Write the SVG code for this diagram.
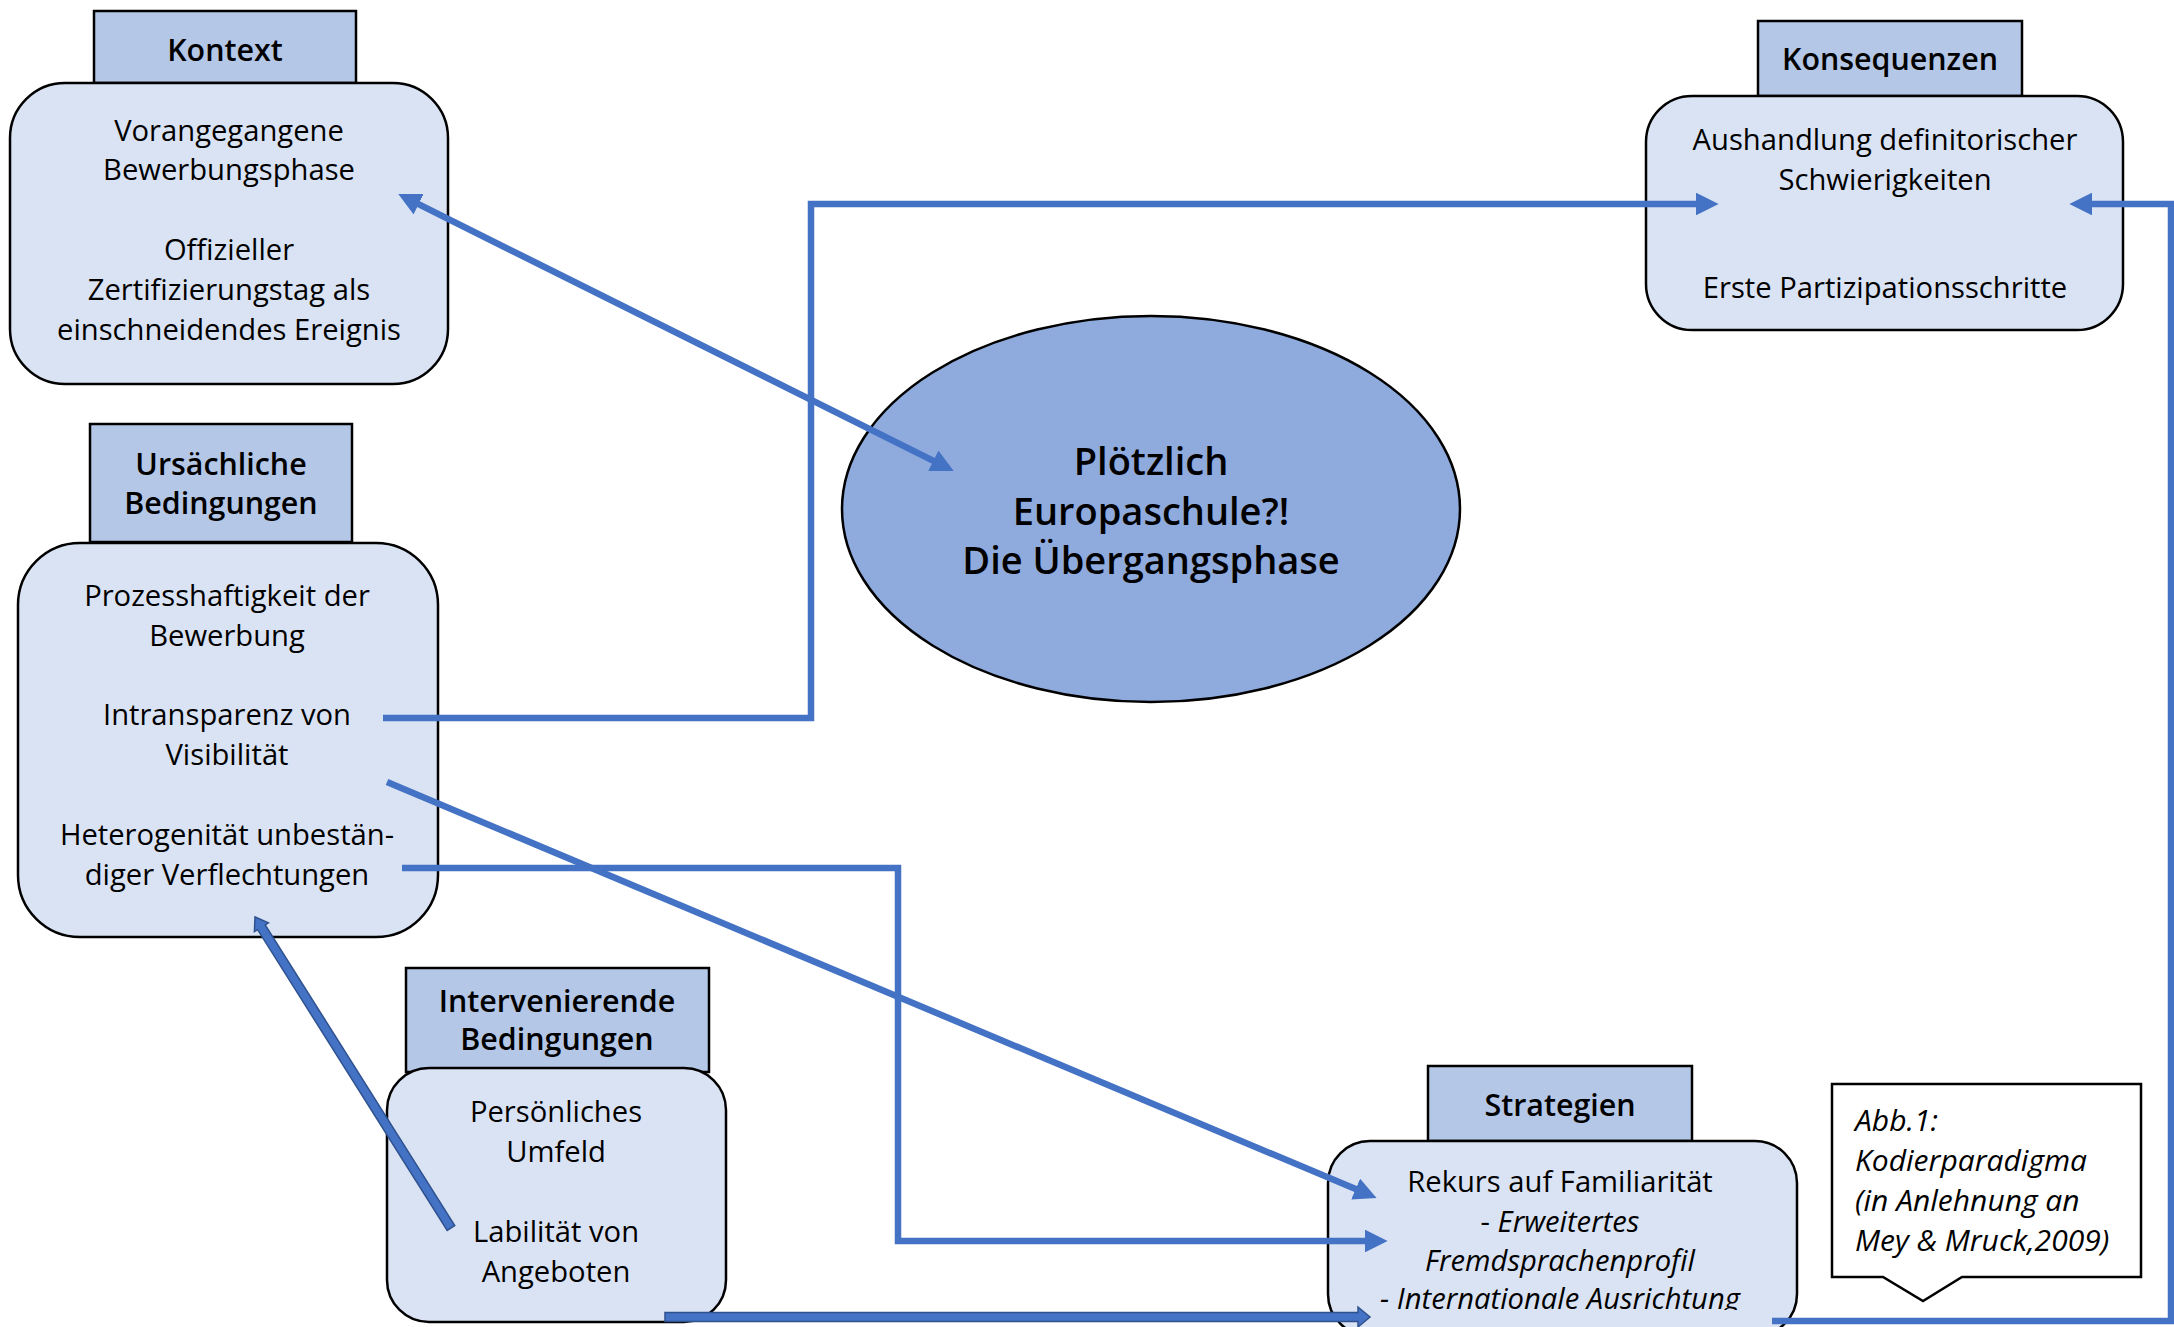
<svg xmlns="http://www.w3.org/2000/svg" width="2174" height="1327" viewBox="0 0 2174 1327">
<style>
.hdr{fill:#B4C7E7;stroke:#000;stroke-width:2.5}
.body{fill:#DAE3F3;stroke:#000;stroke-width:2.5}
.t{font-family:"Open Sans","Noto Sans","Liberation Sans",sans-serif;font-size:29.2px;fill:#000;text-anchor:middle}
.h{font-family:"Open Sans","Noto Sans","Liberation Sans",sans-serif;font-size:30.4px;font-weight:600;fill:#000;text-anchor:middle}
.e{font-size:38px;font-weight:600}
.it{font-style:italic}
.cap{font-size:30px;text-anchor:start}
.conn{fill:none;stroke:#4472C4;stroke-width:6.5}
.blk{fill:#4472C4;stroke:#2F528F;stroke-width:1.5}
</style>
<defs>
<marker id="ah" viewBox="0 0 10 10" refX="4" refY="5" markerWidth="3.5" markerHeight="3.5" orient="auto-start-reverse" markerUnits="strokeWidth">
<path d="M0,0 L10,5 L0,10 z" fill="#4472C4"/>
</marker>
<clipPath id="clipS"><rect x="1300" y="1140" width="520" height="170"/></clipPath>
</defs>

<g id="kontext">
<rect class="hdr" x="94" y="11" width="262" height="72"/>
<rect class="body" x="10" y="83" width="438" height="301" rx="55" ry="55"/>
<text class="h" x="225" y="61">Kontext</text>
<text class="t" x="229" y="141">Vorangegangene</text>
<text class="t" x="229" y="180">Bewerbungsphase</text>
<text class="t" x="229" y="260">Offizieller</text>
<text class="t" x="229" y="300">Zertifizierungstag als</text>
<text class="t" x="229" y="340">einschneidendes Ereignis</text>
</g>

<g id="ursaechliche">
<rect class="hdr" x="90" y="424" width="262" height="118"/>
<rect class="body" x="18" y="543" width="420" height="394" rx="62" ry="62"/>
<text class="h" x="221" y="475">Ursächliche</text>
<text class="h" x="221" y="514">Bedingungen</text>
<text class="t" x="227" y="606">Prozesshaftigkeit der</text>
<text class="t" x="227" y="646">Bewerbung</text>
<text class="t" x="227" y="725">Intransparenz von</text>
<text class="t" x="227" y="765">Visibilität</text>
<text class="t" x="227" y="845">Heterogenität unbestän-</text>
<text class="t" x="227" y="885">diger Verflechtungen</text>
</g>

<g id="intervenierende">
<rect class="hdr" x="406" y="968" width="303" height="104"/>
<rect class="body" x="387" y="1068" width="339" height="254" rx="42" ry="42"/>
<text class="h" x="557" y="1012">Intervenierende</text>
<text class="h" x="557" y="1050">Bedingungen</text>
<text class="t" x="556" y="1122">Persönliches</text>
<text class="t" x="556" y="1162">Umfeld</text>
<text class="t" x="556" y="1242">Labilität von</text>
<text class="t" x="556" y="1282">Angeboten</text>
</g>

<g id="phaenomen">
<ellipse cx="1151" cy="509" rx="309" ry="193" fill="#8FAADC" stroke="#000" stroke-width="2.5"/>
<text class="t e" x="1151" y="475">Plötzlich</text>
<text class="t e" x="1151" y="525">Europaschule?!</text>
<text class="t e" x="1151" y="574">Die Übergangsphase</text>
</g>

<g id="konsequenzen">
<rect class="hdr" x="1758" y="21" width="264" height="75"/>
<rect class="body" x="1646" y="96" width="477" height="234" rx="46" ry="46"/>
<text class="h" x="1890" y="70">Konsequenzen</text>
<text class="t" x="1885" y="150">Aushandlung definitorischer</text>
<text class="t" x="1885" y="190">Schwierigkeiten</text>
<text class="t" x="1885" y="298">Erste Partizipationsschritte</text>
</g>

<g id="strategien">
<rect class="hdr" x="1428" y="1066" width="264" height="75"/>
<rect class="body" x="1328" y="1141" width="469" height="195" rx="42" ry="42"/>
<text class="h" x="1560" y="1116">Strategien</text>
<g clip-path="url(#clipS)">
<text class="t" x="1560" y="1192">Rekurs auf Familiarität</text>
<text class="t" x="1560" y="1232">- <tspan class="it">Erweitertes</tspan></text>
<text class="t it" x="1560" y="1271">Fremdsprachenprofil</text>
<text class="t it" x="1560" y="1309">- Internationale Ausrichtung</text>
</g>
</g>

<g id="caption">
<path d="M1832,1084 H2141 V1277 H1962 L1923,1301 L1883,1277 H1832 Z" fill="#fff" stroke="#000" stroke-width="2.5"/>
<text class="t it cap" x="1855" y="1131">Abb.1:</text>
<text class="t it cap" x="1855" y="1171">Kodierparadigma</text>
<text class="t it cap" x="1855" y="1211">(in Anlehnung an</text>
<text class="t it cap" x="1855" y="1251">Mey &amp; Mruck,2009)</text>
</g>

<g id="connectors">
<line class="conn" x1="410.5" y1="200.2" x2="941.5" y2="464.8" marker-start="url(#ah)" marker-end="url(#ah)"/>
<polyline class="conn" points="383,718 811,718 811,204 1705,204" marker-end="url(#ah)"/>
<line class="conn" x1="387" y1="782" x2="1364" y2="1192.6" marker-end="url(#ah)"/>
<polyline class="conn" points="402,868 898,868 898,1241 1374,1241" marker-end="url(#ah)"/>
<polyline class="conn" points="1772,1321 2171,1321 2171,204 2083,204" marker-end="url(#ah)"/>
<polygon class="blk" points="454.8,1225.6 265.2,924.9 268.4,922.9 255,917 254.4,931.7 257.6,929.7 447.2,1230.4"/>
<polygon class="blk" points="665,1312.5 1358,1312.5 1358,1307 1370,1317 1358,1327 1358,1321.5 665,1321.5"/>
</g>
</svg>
